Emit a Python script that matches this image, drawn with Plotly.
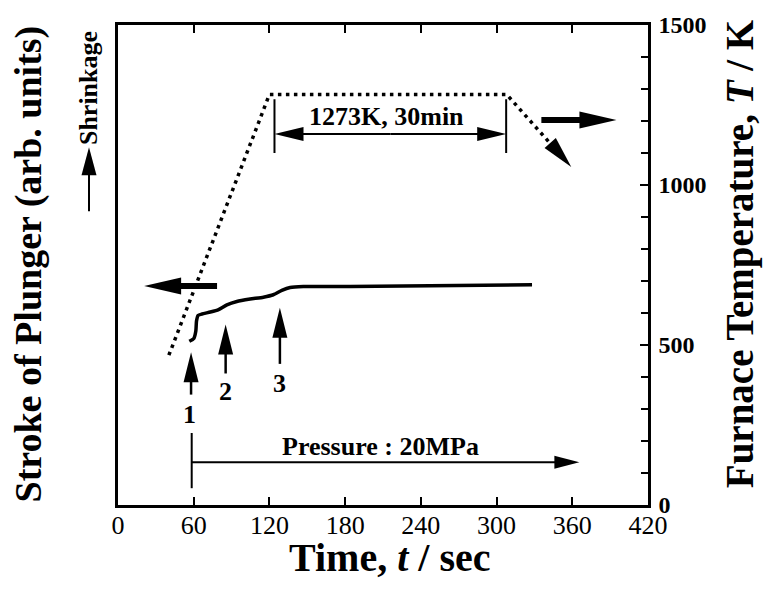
import math
import plotly.graph_objects as go

# ---------------- data ----------------
time_ticks = [0, 60, 120, 180, 240, 300, 360, 420]
temp_ticks = [0, 500, 1000, 1500]

# furnace temperature programme (K) vs time (s)
temp_t = [40.3, 120.0, 308.0, 342.5]
temp_K = [468, 1283, 1283, 1130]

# stroke of plunger (arb. units, 0-100 scale)
stroke_t = [56.5, 60.1, 61.7, 62.2, 63.5, 66.6, 73.2, 79.7, 86.3, 94.2,
            104.7, 115.2, 123.1, 129.8, 136.4, 146.9, 183.9, 328.1]
stroke_s = [34.1, 34.7, 36.3, 38.3, 39.5, 39.8, 40.2, 40.7, 41.7, 42.4,
            42.9, 43.3, 43.8, 44.7, 45.3, 45.5, 45.5, 45.9]

# event arrows 1, 2, 3
event_labels = ["1", "2", "3"]
event_t = [57.9, 85.3, 128.3]
event_tip = [31.8, 37.6, 41.1]
event_tail = [23.0, 27.4, 29.4]
event_label_t = [56.6, 85.3, 128.3]
event_label_s = [18.8, 23.6, 25.3]

# holding period annotation
hold_text = "1273K, 30min"
hold_start, hold_end = 124.0, 307.6
hold_arrow_K = 1159
hold_bar_K = [1100, 1268]
hold_text_t, hold_text_K = 212.7, 1214

# pressure annotation
pressure_text = "Pressure : 20MPa"
pressure_t0, pressure_t1 = 58.4, 365.6
pressure_s = 8.9
pressure_bar_s = [3.5, 15.0]
pressure_text_t, pressure_text_s = 208.0, 12.1

# axis indicator arrows
stroke_arrow_t = [78.5, 20.7]
stroke_arrow_s = 45.6
temp_arrow_t = [335.5, 395.0]
temp_arrow_K = 1203

# ---------------- layout geometry ----------------
W, H = 764, 592
ML, MR, MT, MB = 118, 116, 18, 87
PW, PH = W - ML - MR, H - MT - MB
SX = PW / 420.0       # px per second
SY = PH / 100.0       # px per stroke unit
SK = PH / 1500.0      # px per kelvin

FONT = "Liberation Serif"
shapes = []


def arrow(x0, y0, x1, y1, sx, sy, shaft_w, head_l, head_w,
          xref="x", yref="y"):
    dxp = (x1 - x0) * sx
    dyp = (y1 - y0) * sy
    L = math.hypot(dxp, dyp)
    ux, uy = dxp / L, dyp / L
    back = head_l * 0.8
    xe = x1 - ux * back / sx
    ye = y1 - uy * back / sy
    if shaft_w > 0:
        shapes.append(dict(type="line", xref=xref, yref=yref,
                           x0=x0, y0=y0, x1=xe, y1=ye,
                           line=dict(color="black", width=shaft_w)))
    bx, by = -ux * head_l, -uy * head_l
    px, py = -uy * head_w / 2, ux * head_w / 2
    path = (f"M0,0 L{bx + px:.2f},{by + py:.2f} "
            f"L{bx - px:.2f},{by - py:.2f} Z")
    shapes.append(dict(type="path", xref=xref, yref=yref,
                       xsizemode="pixel", ysizemode="pixel",
                       xanchor=x1, yanchor=y1, path=path,
                       fillcolor="black", line=dict(width=0)))


fig = go.Figure()

fig.add_trace(go.Scatter(
    x=stroke_t, y=stroke_s, mode="lines", yaxis="y",
    line=dict(color="black", width=3.5, shape="spline", smoothing=0.5),
    showlegend=False, hoverinfo="skip"))

fig.add_trace(go.Scatter(
    x=temp_t, y=temp_K, mode="lines", yaxis="y2",
    line=dict(color="black", width=3.5, dash="3.5px,4.5px"),
    showlegend=False, hoverinfo="skip"))

# arrowhead at end of dotted temperature line
dxp = (temp_t[-1] - temp_t[-2]) * SX
dyp = (temp_K[-1] - temp_K[-2]) * SK
Ld = math.hypot(dxp, dyp)
head = 32
tip_t = temp_t[-1] + dxp / Ld * head / SX
tip_K = temp_K[-1] + dyp / Ld * head / SK
arrow(temp_t[-1], temp_K[-1], tip_t, tip_K, SX, SK, 0, 32, 15, yref="y2")

# event arrows
for t, a, b in zip(event_t, event_tail, event_tip):
    arrow(t, a, t, b, SX, SY, 2.5, 30, 15)

# big indicator arrows
arrow(stroke_arrow_t[0], stroke_arrow_s, stroke_arrow_t[1], stroke_arrow_s,
      SX, SY, 6, 37, 17)
arrow(temp_arrow_t[0], temp_arrow_K, temp_arrow_t[1], temp_arrow_K,
      SX, SK, 6, 37, 17, yref="y2")

# holding period double arrow
mid = (hold_start + hold_end) / 2
arrow(mid, hold_arrow_K, hold_start, hold_arrow_K, SX, SK, 2, 29, 14, yref="y2")
arrow(mid, hold_arrow_K, hold_end, hold_arrow_K, SX, SK, 2, 29, 14, yref="y2")
for tb in (hold_start, hold_end):
    shapes.append(dict(type="line", xref="x", yref="y2", x0=tb, x1=tb,
                       y0=hold_bar_K[0], y1=hold_bar_K[1],
                       line=dict(color="black", width=2)))

# pressure arrow
arrow(pressure_t0, pressure_s, pressure_t1, pressure_s, SX, SY, 2, 25, 13)
shapes.append(dict(type="line", xref="x", yref="y",
                   x0=pressure_t0, x1=pressure_t0,
                   y0=pressure_bar_s[0], y1=pressure_bar_s[1],
                   line=dict(color="black", width=2)))

# shrinkage arrow (outside plot, paper coords)
sx_p = (89 - ML) / PW
arrow(sx_p, (H - MB - 207) / PH, sx_p, (H - MB - 142) / PH, PW, PH,
      2, 28, 15, xref="paper", yref="paper")


def note(x, y, text, size, xref="paper", yref="paper", angle=0):
    return dict(x=x, y=y, xref=xref, yref=yref, text=text, showarrow=False,
                xanchor="center", yanchor="middle", textangle=angle,
                font=dict(family=FONT, size=size, color="black",
                          weight="bold"))


annotations = []
for lab, t, s in zip(event_labels, event_label_t, event_label_s):
    annotations.append(note(t, s, lab, 26, "x", "y"))
annotations.append(note(hold_text_t, hold_text_K, hold_text, 26, "x", "y2"))
annotations.append(note(pressure_text_t, pressure_text_s, pressure_text, 26,
                        "x", "y"))
# axis titles
annotations.append(note((389.5 - ML) / PW, (H - MB - 558) / PH,
                        "Time, <i>t</i> / sec", 40))
annotations.append(note((29 - ML) / PW, (H - MB - 261) / PH,
                        "Stroke of Plunger (arb. units)", 38, angle=-90))
annotations.append(note((739.5 - ML) / PW, (H - MB - 250) / PH,
                        "Furnace Temperature, <i>T</i> / K", 39, angle=-90))
annotations.append(note((88.5 - ML) / PW, (H - MB - 82.5) / PH,
                        "Shrinkage", 26, angle=-90))

fig.update_layout(
    width=W, height=H,
    margin=dict(l=ML, r=MR, t=MT, b=MB, pad=0),
    paper_bgcolor="white", plot_bgcolor="white",
    showlegend=False,
    xaxis=dict(range=[0, 420], tickvals=time_ticks,
               ticktext=[str(v) for v in time_ticks],
               ticks="inside", ticklen=8, tickwidth=2, tickcolor="black",
               showline=True, linewidth=2.5, linecolor="black",
               mirror="ticks", showgrid=False, zeroline=False,
               ticklabelstandoff=-5,
               tickfont=dict(family=FONT, size=26, color="black")),
    yaxis=dict(range=[0, 100], showticklabels=False, ticks="",
               showline=True, linewidth=2.5, linecolor="black",
               showgrid=False, zeroline=False),
    yaxis2=dict(range=[0, 1500], overlaying="y", side="right",
                tickvals=temp_ticks, ticktext=[str(v) for v in temp_ticks],
                ticks="inside", ticklen=8, tickwidth=2, tickcolor="black",
                minor=dict(dtick=100, ticks="inside", ticklen=7,
                           tickwidth=2, tickcolor="black"),
                showline=True, linewidth=2.5, linecolor="black",
                showgrid=False, zeroline=False, ticklabelstandoff=3,
                tickfont=dict(family=FONT, size=24, color="black",
                              weight="bold")),
    shapes=shapes,
    annotations=annotations,
)

fig.write_html("out.html")
